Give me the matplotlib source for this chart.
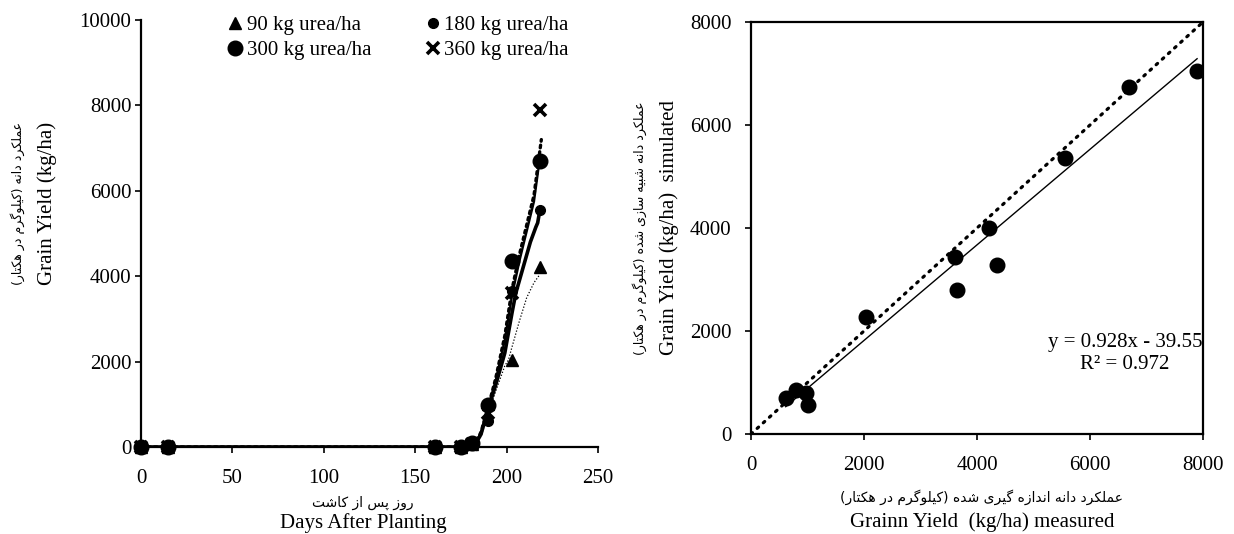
import os
os.environ['MPLCONFIGDIR'] = os.getcwd()
import matplotlib
matplotlib.use('Agg')
import matplotlib.pyplot as plt
import numpy as np

plt.rcParams['font.family'] = ['Liberation Serif', 'DejaVu Sans']
plt.rcParams['font.size'] = 15

# ---- left chart: observed grain yield (markers) ----
obs_days = [0, 15, 161, 175, 181, 190, 203, 218]
obs_90 = [0, 0, 0, 0, 60, 1003, 2034, 4216]
obs_180 = [0, 0, 0, 0, 60, 614, 3651, 5558]
obs_300 = [0, 0, 0, 0, 90, 975, 4357, 6695]
obs_360 = [0, 0, 0, 0, 60, 798, 3609, 7895]

# ---- left chart: simulated grain yield (lines) ----
sim_days_90 = [0, 182, 186, 190, 194, 199, 201, 203, 207, 211, 215, 218]
sim_90 = [0, 0, 250, 800, 1300, 1900, 2040, 2350, 2950, 3500, 3850, 4030]
sim_days_180 = [0, 182, 186, 190, 194, 199, 203, 205, 207, 210, 213, 216, 217, 218]
sim_180 = [0, 0, 300, 900, 1450, 2200, 3150, 3600, 3900, 4350, 4800, 5150, 5250, 5500]
sim_days_300 = [0, 182, 186, 190, 194, 199, 203, 207, 211, 215, 218]
sim_300 = [0, 0, 350, 950, 1550, 2500, 3550, 4350, 5050, 5750, 6700]
sim_days_360 = [0, 182, 186, 190, 194, 199, 203, 207, 211, 215, 217, 219]
sim_360 = [0, 0, 350, 950, 1600, 2600, 3700, 4500, 5200, 5900, 6550, 7200]

labels = ['90 kg urea/ha', '180 kg urea/ha', '300 kg urea/ha', '360 kg urea/ha']

# ---- right chart: measured vs simulated ----
measured = [614, 798, 975, 1003, 2034, 3609, 3651, 4216, 4357, 5558, 6695, 7895]
simulated = [702, 861, 801, 563, 2272, 3430, 2795, 4007, 3272, 5351, 6742, 7053]
fit_slope = 0.928
fit_icpt = -39.55
fit_r2 = 0.972


def fa(text):
    # minimal persian shaping for matplotlib (no bidi support there)
    forms = {
        'ا': ('\uFE8D', '\uFE8E', None, None),
        'ب': ('\uFE8F', '\uFE90', '\uFE91', '\uFE92'),
        'پ': ('\uFB56', '\uFB57', '\uFB58', '\uFB59'),
        'ت': ('\uFE95', '\uFE96', '\uFE97', '\uFE98'),
        'د': ('\uFEA9', '\uFEAA', None, None),
        'ر': ('\uFEAD', '\uFEAE', None, None),
        'ز': ('\uFEAF', '\uFEB0', None, None),
        'س': ('\uFEB1', '\uFEB2', '\uFEB3', '\uFEB4'),
        'ش': ('\uFEB5', '\uFEB6', '\uFEB7', '\uFEB8'),
        'ع': ('\uFEC9', '\uFECA', '\uFECB', '\uFECC'),
        'ک': ('\uFB8E', '\uFB8F', '\uFB90', '\uFB91'),
        'گ': ('\uFB92', '\uFB93', '\uFB94', '\uFB95'),
        'ل': ('\uFEDD', '\uFEDE', '\uFEDF', '\uFEE0'),
        'م': ('\uFEE1', '\uFEE2', '\uFEE3', '\uFEE4'),
        'ن': ('\uFEE5', '\uFEE6', '\uFEE7', '\uFEE8'),
        'ه': ('\uFEE9', '\uFEEA', '\uFEEB', '\uFEEC'),
        'و': ('\uFEED', '\uFEEE', None, None),
        'ی': ('\uFBFC', '\uFBFD', '\uFBFE', '\uFBFF'),
    }
    out = []
    for i, ch in enumerate(text):
        if ch not in forms:
            out.append(ch)
            continue
        prev = text[i - 1] if i > 0 else ''
        nxt = text[i + 1] if i + 1 < len(text) else ''
        jp = prev in forms and forms[prev][2] is not None
        jn = forms[ch][2] is not None and nxt in forms
        iso, fin, ini, med = forms[ch]
        if jp and jn:
            out.append(med)
        elif jp:
            out.append(fin)
        elif jn:
            out.append(ini)
        else:
            out.append(iso)
    s = ''.join(out)[::-1]
    return s.translate(str.maketrans('()', ')('))


FA = ['DejaVu Sans']

fig = plt.figure(figsize=(12.34, 5.34), dpi=100)

# ================= left =================
ax1 = fig.add_axes([0.1143, 0.1629, 0.3703, 0.7996])

ax1.plot(sim_days_90, sim_90, color='black', lw=0.9, ls=(0, (1, 1.5)))
ax1.plot(sim_days_180, sim_180, color='black', lw=2.6, solid_capstyle='round')
ax1.plot(sim_days_300, sim_300, color='black', lw=1.6)
ax1.plot(sim_days_360, sim_360, color='black', lw=2.4, ls=(0, (0.8, 1.2)),
         dash_capstyle='round')

h90, = ax1.plot(obs_days, obs_90, ls='none', marker='^', ms=8, color='black',
                clip_on=False, zorder=3, label=labels[0])
h180, = ax1.plot(obs_days, obs_180, ls='none', marker='o', ms=7, color='black',
                 clip_on=False, zorder=3, label=labels[1])
h300, = ax1.plot(obs_days, obs_300, ls='none', marker='o', ms=10.5, color='black',
                 clip_on=False, zorder=3, label=labels[2])
h360, = ax1.plot(obs_days, obs_360, ls='none', marker='x', ms=9, mew=2.6,
                 color='black', clip_on=False, zorder=4, label=labels[3])

ax1.set_xlim(0, 250)
ax1.set_ylim(0, 10000)
ax1.set_xticks(np.arange(0, 251, 50))
ax1.set_yticks(np.arange(0, 10001, 2000))
for sp in ['top', 'right']:
    ax1.spines[sp].set_visible(False)
for sp in ['left', 'bottom']:
    ax1.spines[sp].set_linewidth(1.6)
ax1.tick_params(direction='out', length=4, width=1.2)
ax1.tick_params(axis='x', pad=12)
ax1.tick_params(axis='y', pad=3)

leg = ax1.legend(handles=[h90, h300, h180, h360], ncol=2, frameon=False,
                 loc='upper left', bbox_to_anchor=(0.19, 1.01),
                 borderaxespad=0, borderpad=0, handlelength=0.7,
                 handletextpad=0.2, columnspacing=2.6, labelspacing=0.25,
                 fontsize=15)

ax1.text(0.486, -0.132, fa('روز پس از کاشت'), transform=ax1.transAxes,
         ha='center', va='center', family=FA, fontsize=10)
ax1.text(0.486, -0.177, 'Days After Planting', transform=ax1.transAxes,
         ha='center', va='center', fontsize=15)
ax1.text(-0.271, 0.57, fa('عملکرد دانه (کیلوگرم در هکتار)'), transform=ax1.transAxes,
         ha='center', va='center', rotation=90, family=FA, fontsize=9)
ax1.text(-0.206, 0.57, 'Grain Yield (kg/ha)', transform=ax1.transAxes,
         ha='center', va='center', rotation=90, fontsize=15)

# ================= right =================
ax2 = fig.add_axes([0.6086, 0.1873, 0.3663, 0.7715])

ax2.plot([0, 8000], [0, 8000], color='black', lw=2.3, ls=(0, (0.6, 2.0)),
         dash_capstyle='round')
xf = np.array([min(measured), max(measured)])
ax2.plot(xf, fit_slope * xf + fit_icpt, color='black', lw=1.0)
ax2.plot(measured, simulated, ls='none', marker='o', ms=10.5, color='black',
         zorder=3)

ax2.set_xlim(0, 8000)
ax2.set_ylim(0, 8000)
ax2.set_xticks(np.arange(0, 8001, 2000))
ax2.set_yticks(np.arange(0, 8001, 2000))
for sp in ax2.spines.values():
    sp.set_linewidth(1.6)
ax2.tick_params(direction='out', length=4, width=1.2)
ax2.tick_params(axis='x', pad=12)
ax2.tick_params(axis='y', pad=10)

ax2.text(6620, 1770, 'y = %.3fx - %.2f' % (fit_slope, -fit_icpt),
         ha='center', va='center', fontsize=15)
ax2.text(6620, 1340, 'R² = %.3f' % fit_r2, ha='center', va='center', fontsize=15)

ax2.text(0.511, -0.153, fa('عملکرد دانه اندازه گیری شده (کیلوگرم در هکتار)'),
         transform=ax2.transAxes, ha='center', va='center', family=FA, fontsize=10)
ax2.text(0.511, -0.214, 'Grainn Yield  (kg/ha) measured', transform=ax2.transAxes,
         ha='center', va='center', fontsize=15)
ax2.text(-0.246, 0.5, fa('عملکرد دانه شبیه سازی شده (کیلوگرم در هکتار)'),
         transform=ax2.transAxes, ha='center', va='center', rotation=90,
         family=FA, fontsize=9)
ax2.text(-0.181, 0.5, 'Grain Yield (kg/ha)  simulated', transform=ax2.transAxes,
         ha='center', va='center', rotation=90, fontsize=15)

plt.savefig('out.png', dpi=100)
